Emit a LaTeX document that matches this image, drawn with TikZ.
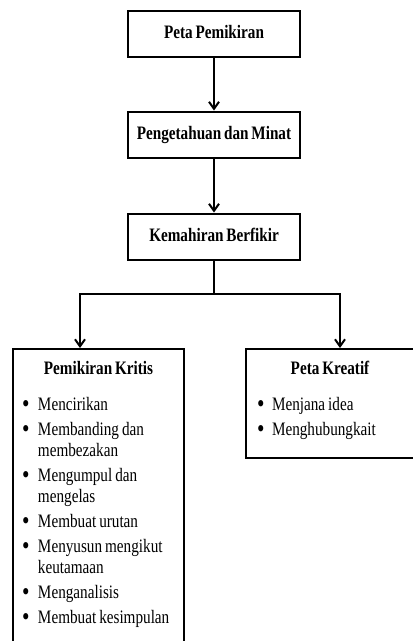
\documentclass[tikz,border=0pt]{standalone}
\usepackage{fontspec}
\setmainfont{Liberation Serif}
\newfontfamily\condfont[FakeStretch=0.8,WordSpace=0.75]{Liberation Serif}
\usepackage{enumitem}
\usetikzlibrary{arrows.meta,positioning}

\newcommand{\dotmark}{\raisebox{-2.6pt}{\scalebox{1.4}{\textbullet}}}
\newcommand{\tightgaps}{\spaceskip=3pt plus 1pt\relax\xspaceskip=3pt\relax}

\begin{document}
\begin{tikzpicture}[
    x=1pt, y=1pt,
    line width=2pt,
    >={Straight Barb[length=7pt,width=10pt]},
    box/.style={rectangle,draw,minimum width=172pt,minimum height=46pt,inner sep=0pt,
        font=\condfont\fontsize{19}{21}\selectfont\bfseries},
    panel/.style={rectangle,draw,anchor=north west,inner sep=0pt},
    head/.style={inner sep=0pt,font=\condfont\fontsize{19}{21}\selectfont\bfseries},
    items/.style={anchor=north west,text width=160pt,inner sep=0pt,
        font=\condfont\fontsize{19}{21}\selectfont}
]
\useasboundingbox (0,0) rectangle (413,-641);
\clip (0,0) rectangle (413,-641);

% Main chain
\node[box] (peta) at (214,-33.5) {\raisebox{3pt}{Peta Pemikiran}};
\node[box,below=53pt of peta] (pengetahuan) {\raisebox{3pt}{Pengetahuan dan Minat}};
\node[box,below=54pt of pengetahuan] (kemahiran) {\raisebox{3pt}{Kemahiran Berfikir}};

\draw[->] (peta) -- (pengetahuan);
\draw[->] (pengetahuan) -- (kemahiran);

% Lower panels
\node[panel,minimum width=171pt,minimum height=300pt] (kritis) at (12,-348) {};
\node[panel,minimum width=175pt,minimum height=109pt] (kreatif) at (245,-348) {};

\node[head] (kritisT) at ([yshift=-20pt]kritis.north) {Pemikiran Kritis};
\node[head] (kreatifT) at ([yshift=-20pt]kreatif.north -| 330,0) {Peta Kreatif};

\node[items] (kritisL) at ([xshift=9pt,yshift=-40pt]kritis.north west) {%
\begin{itemize}[leftmargin=16pt,labelwidth=9pt,labelsep=7pt,align=left,
    topsep=0pt,partopsep=0pt,parsep=0pt,itemsep=4pt,label=\dotmark]
\raggedright\tightgaps
\item Mencirikan
\item Membanding dan\\ membezakan
\item Mengumpul dan\\ mengelas
\item Membuat urutan
\item Menyusun mengikut\\ keutamaan
\item Menganalisis
\item Membuat kesimpulan
\end{itemize}};

\node[items] (kreatifL) at ([xshift=11pt,yshift=-40pt]kreatif.north west) {%
\begin{itemize}[leftmargin=15pt,labelwidth=9pt,labelsep=6pt,align=left,
    topsep=0pt,partopsep=0pt,parsep=0pt,itemsep=4pt,label=\dotmark]
\raggedright\tightgaps
\item Menjana idea
\item Menghubungkait
\end{itemize}};

% Branch
\coordinate (split) at (214,-294);
\coordinate (splitL) at (80,-294);
\coordinate (splitR) at (340,-294);
\draw (kemahiran) -- (split);
\draw[->] (split) -- (splitL) -- (kritis.north -| splitL);
\draw[->] (split) -- (splitR) -- (kreatif.north -| splitR);

\end{tikzpicture}
\end{document}
